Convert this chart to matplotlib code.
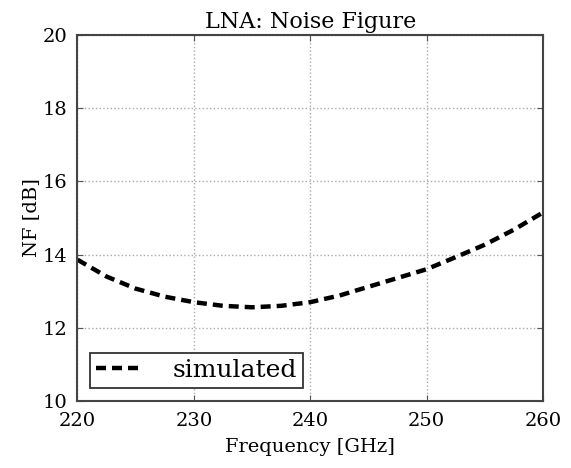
import matplotlib
matplotlib.use("Agg")
import matplotlib.pyplot as plt

freq = [220, 222.5, 225, 227.5, 230, 232.5, 235, 237.5, 240, 242.5, 245, 247.5, 250, 252.5, 255, 257.5, 260]
nf = [13.86, 13.40, 13.07, 12.85, 12.70, 12.60, 12.56, 12.60, 12.70, 12.88, 13.12, 13.36, 13.60, 13.93, 14.27, 14.68, 15.15]
xticks = [220, 230, 240, 250, 260]
yticks = [10, 12, 14, 16, 18, 20]

plt.rcParams['font.family'] = ['DejaVu Serif']
fig = plt.figure(figsize=(5.71, 4.68), dpi=100)
ax = fig.add_axes([0.1357, 0.1432, 0.8152, 0.782])
ax.plot(freq, nf, color='black', lw=3.2, ls=(0, (2.25, 1.35)), label='simulated')
ax.set_xlim(220, 260)
ax.set_ylim(10, 20)
ax.set_xticks(xticks)
ax.set_yticks(yticks)
ax.grid(True, ls=':', color='#aaaaaa', lw=1.0)
ax.tick_params(direction='in', top=True, right=True, labelsize=14, length=4, color='#555555')
ax.tick_params(axis='y', pad=7)
ax.tick_params(axis='x', pad=8)
for s in ax.spines.values():
    s.set_color('#444444')
    s.set_linewidth(1.5)
ax.set_xlabel('Frequency [GHz]', fontsize=14, labelpad=6)
ax.set_ylabel('NF [dB]', fontsize=14, labelpad=2)
ax.set_title('LNA: Noise Figure', fontsize=16, pad=5)
leg = ax.legend(loc='lower left', fontsize=18, handlelength=1.75, handletextpad=1.3,
                fancybox=False, edgecolor='#333333', framealpha=1, borderpad=0.25,
                borderaxespad=0.5)
leg.get_frame().set_linewidth(1.3)
fig.savefig('out.png', dpi=100)
